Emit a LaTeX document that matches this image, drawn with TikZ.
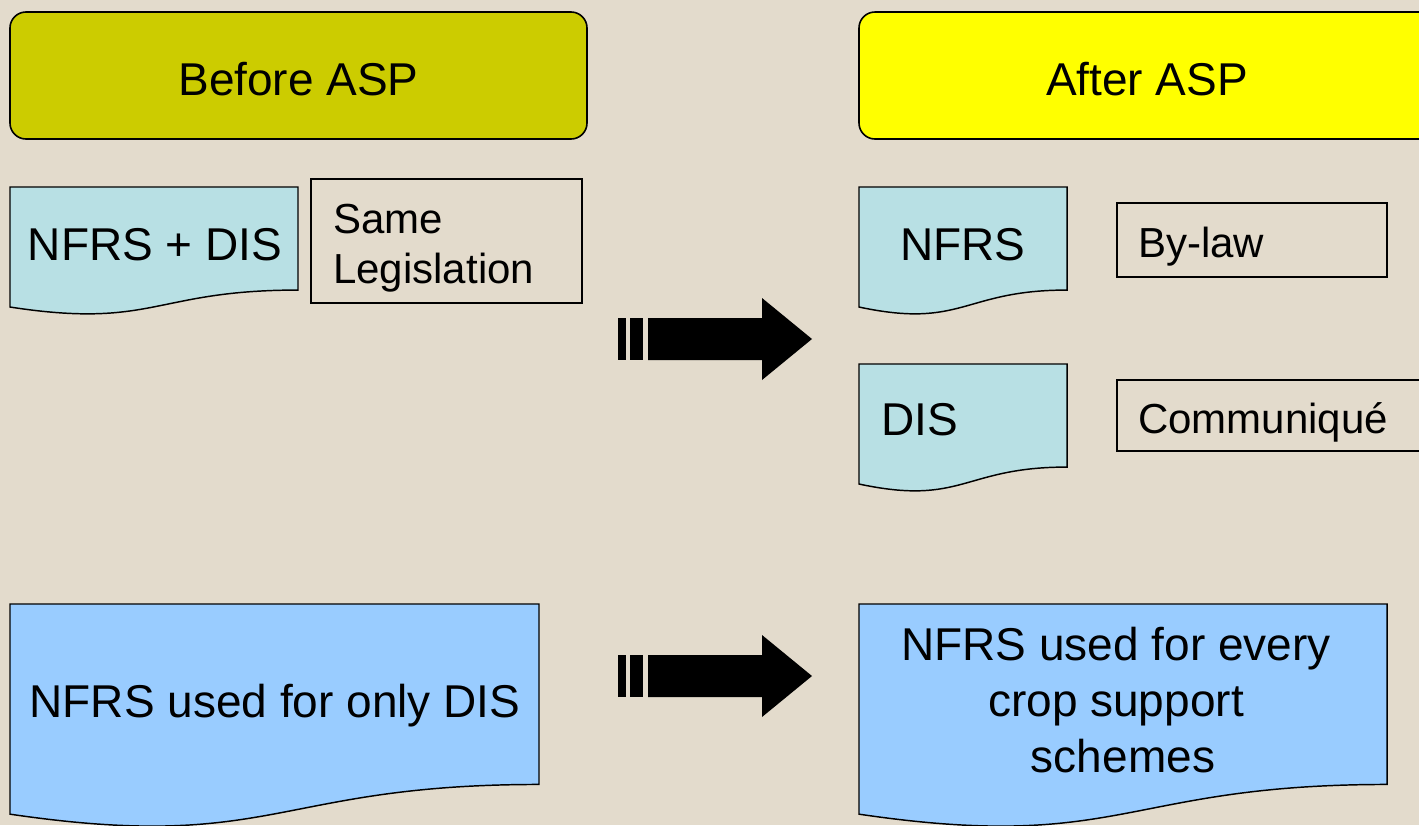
\documentclass[tikz,border=0pt]{standalone}
\usepackage{fontspec}
\setmainfont{Liberation Sans}
\usetikzlibrary{calc}
\definecolor{bgc}{HTML}{E3DBCC}
\definecolor{olivefill}{HTML}{CCCC00}
\definecolor{yelfill}{HTML}{FFFF00}
\definecolor{cyanfill}{HTML}{B8E0E4}
\definecolor{bluefill}{HTML}{99CCFF}
\newcommand\px{0.75pt}
\tikzset{
  hdrbox/.style={draw=black, line width=1.2pt, rounded corners=12pt, inner sep=0pt},
  lblbox/.style={draw=black, line width=1pt, inner sep=0pt},
  docline/.style={draw=black, line width=1.1pt},
  bigtxt/.style={font=\fontsize{34.5}{41}\selectfont, inner sep=0pt, text=black},
  smalltxt/.style={font=\fontsize{31.5}{37.5}\selectfont, inner sep=0pt, text=black},
  blockarrow/.style={fill=black},
}
% name, fill, x1, y1, x2, H
\newcommand\docshape[6]{%
  \filldraw[docline, fill=#2] (#3,#4) -- (#5,#4) -- (#5,{#4+0.802*#6})
    .. controls ({(#3+#5)/2},{#4+0.802*#6}) and ({(#3+#5)/2},{#4+1.107*#6}) ..
    (#3,{#4+0.934*#6}) -- cycle;
  \coordinate (#1) at ({(#3+#5)/2},{#4+0.4*#6});
}
\begin{document}
\begin{tikzpicture}[x=0.75pt, y=-0.75pt]
\useasboundingbox (0,0) rectangle (1419,825);
\fill[bgc] (0,0) rectangle (1419,825);
\clip (0,0) rectangle (1419,825);

% headers
\node[hdrbox, fill=olivefill, minimum width=577*\px, minimum height=127*\px] (before) at (298.5,75.5) {};
\node[hdrbox, fill=yelfill, minimum width=577*\px, minimum height=127*\px] (after) at (1147.5,75.5) {};
\node[bigtxt, anchor=base] (beforetxt) at (298.5,95) {Before ASP};
\node[bigtxt, anchor=base] (aftertxt) at (1147,95) {After ASP};

% documents
\docshape{d1}{cyanfill}{10}{187}{298}{128.5}
\docshape{d2}{cyanfill}{859}{187}{1067}{128.5}
\docshape{d3}{cyanfill}{859}{364}{1067}{128.5}
\docshape{d4}{bluefill}{10}{604}{539}{225}
\docshape{d5}{bluefill}{859}{604}{1387}{225}

% label boxes
\node[lblbox, minimum width=271*\px, minimum height=124*\px] (same) at (446.5,241) {};
\node[lblbox, minimum width=270*\px, minimum height=74*\px] (bylaw) at (1252,240) {};
\node[lblbox, minimum width=323*\px, minimum height=71*\px] (comm) at (1278.5,415.5) {};

% texts
\node[bigtxt, anchor=base] (t1) at (155,260) {NFRS + DIS};
\node[smalltxt, anchor=base west] (t2a) at (333,233) {Same};
\node[smalltxt, anchor=base west] (t2b) at (333,283) {Legislation};
\node[bigtxt, anchor=base] (t3) at (963,260) {NFRS};
\node[smalltxt, anchor=base west] (t4) at (1138,257) {By-law};
\node[bigtxt, anchor=base west] (t5) at (881,435) {DIS};
\node[smalltxt, anchor=base west] (t6) at (1138,433) {Communiqué};
\node[bigtxt, anchor=base] (t7) at (275,717) {NFRS used for only DIS};
\node[bigtxt, anchor=base] (t8a) at (1116,660) {NFRS used for every};
\node[bigtxt, anchor=base] (t8b) at (1116,716) {crop support};
\node[bigtxt, anchor=base] (t8c) at (1123,772) {schemes};

% block arrows
\foreach \dy in {0,337} {
  \begin{scope}[shift={(0,\dy)}]
    \fill[blockarrow] (618,318) rectangle (626,360);
    \fill[blockarrow] (630,318) rectangle (643,360);
    \fill[blockarrow] (648,318) -- (762,318) -- (762,298) -- (812,339) -- (762,380) -- (762,360) -- (648,360) -- cycle;
  \end{scope}
}
\end{tikzpicture}
\end{document}
